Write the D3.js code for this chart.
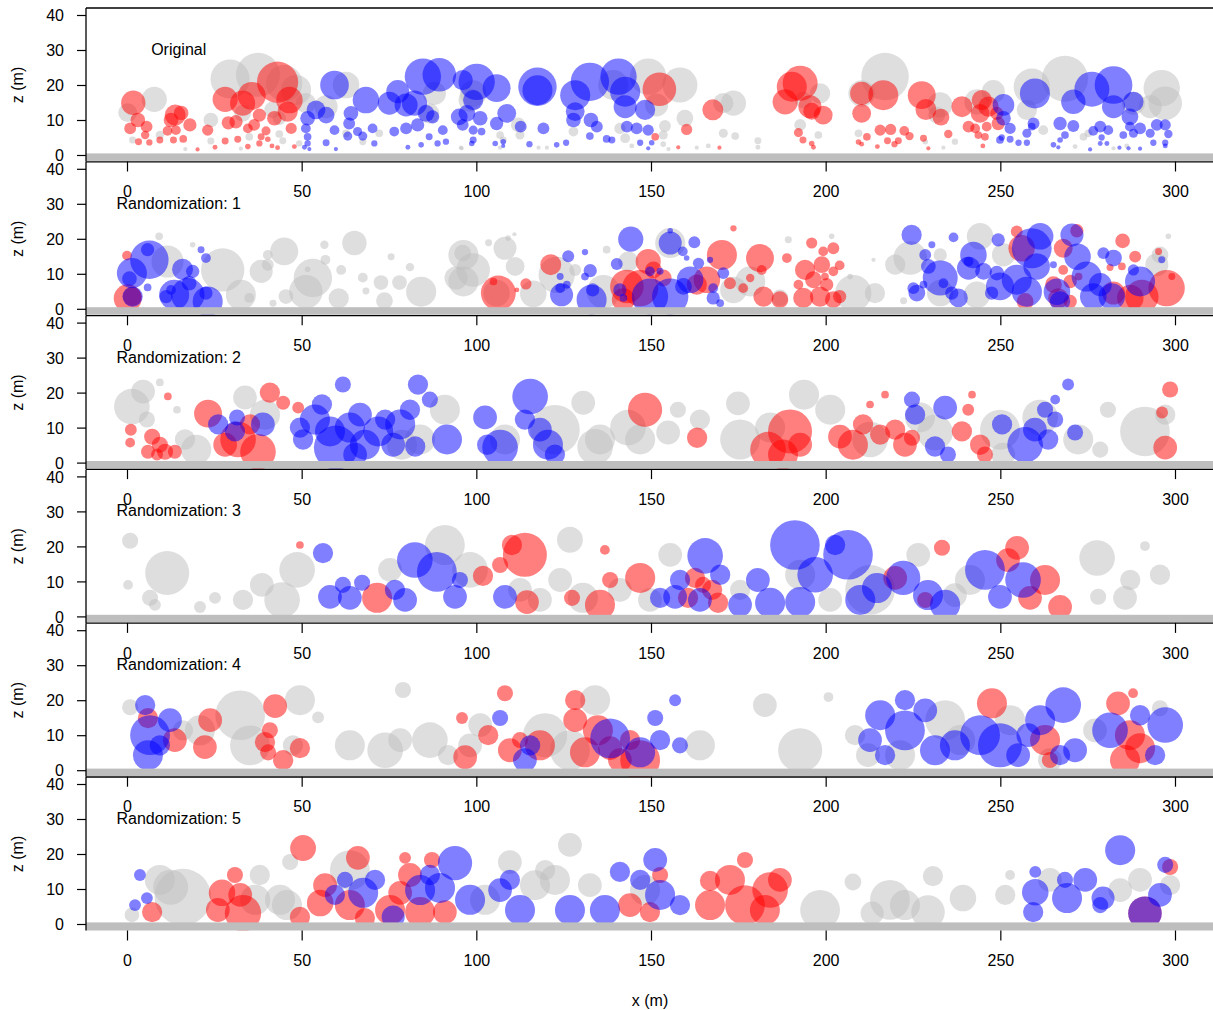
<!DOCTYPE html>
<html><head><meta charset="utf-8">
<script src="https://cdn.jsdelivr.net/npm/d3@7"></script>
<style>
body{margin:0;background:#fff}
svg{display:block}
text{font-family:"Liberation Sans",Arial,Helvetica,sans-serif;fill:#000}
</style>
</head><body>
<script>
// Crown positions of the stand: each entry is [x (m), z (m), crown radius (m)].
const panelTitles = ["Original", "Randomization: 1", "Randomization: 2", "Randomization: 3", "Randomization: 4", "Randomization: 5"];
const xTicks = [0, 50, 100, 150, 200, 250, 300];
const zTicks = [0, 10, 20, 30, 40];

// ---- Original ----
const p0Gray = [[7.8,15.9,3.6],[0.2,12.1,2.7],[29.5,21.7,5.6],[37.5,22.9,6.3],[45,20.5,5.2],[48.4,18.6,4.3],[24,10,2.1],[33.1,11.9,2.4],[41.7,12.9,2.4],[43.6,10.5,1.9],[1.6,4.3,1],[9.4,5.7,1.2],[16.7,1.7,0.6],[24,4,1],[32.6,1.8,0.6],[35,5.2,1.1],[43.6,6,1.1],[44.6,4.1,1],[49.3,3.3,0.9],[51.2,14.8,2.9],[57,13.8,3.3],[62.7,20,3.8],[88,17.6,3.3],[86.5,11.9,2.9],[62.7,6.2,1.1],[67.5,3.8,1],[72.2,6.2,1.1],[95.6,2.1,0.6],
  [149.2,22.4,5.2],[158.3,20,5],[139.2,20,4.3],[151.6,14.3,3.3],[99.1,17.6,3.8],[98.2,15.7,3.3],[112,8.6,2.1],[112.5,5.7,1.3],[106.8,5.7,1.1],[107.7,4.3,1],[127.8,6.7,1.4],[141.1,7.6,1.6],[142.6,4.8,1.4],[154,8.3,1.7],[153.5,5.7,1.3],[159.7,10.5,2.4],[170.7,6.2,1.3],[174.1,5.4,1.1],[170.7,14.8,2.9],[173.6,14.8,3.6],[180.6,4.1,1],[180.6,2.2,0.7],[166.4,2.6,0.7],[163.1,2.1,0.6],[153.5,3.1,0.8],[155,1.7,0.6],[144.5,2.6,0.7],[120.2,2.1,0.6],[117.8,2.1,0.6],[106.8,2.1,0.6],[95.8,1.9,0.6],[192.7,8.6,1.7],[197.9,5.7,1.1],[198.4,17.6,2.9],[193.6,15.7,2.4],
  [217,22.4,6.8],[210.3,17.6,3.8],[232.7,14.3,3.6],[231.8,11.4,2.4],[243.3,15.2,3.6],[248,18.1,3.3],[259,19.5,5.2],[268.5,21.8,6.6],[296.2,19.1,5.2],[297.2,14.8,4.8],[292.9,13.8,3.3],[288.1,14.8,3.3],[257.6,12.9,2.9],[262.3,7.1,1.4],[273.8,5.2,1.1],[275.2,6.2,1.1],[271.4,2.4,0.7],[282.4,1.9,0.6],[286.2,2.6,0.7],[233.7,2.1,0.6],[237,3.8,0.9],[209.4,6.2,1.1],[228.5,3.8,0.8]];
const p0Red = [[1.8,14.9,3.5],[3.1,10,2.1],[0.9,7.6,1.7],[5.6,8.1,1.7],[5.2,5.7,1.2],[3.3,3.8,1],[6.4,3.6,0.9],[13.8,11.4,3],[12.6,10,2.1],[15.5,12,2.1],[18,8.6,1.9],[11.6,6.9,1.4],[14,7.1,1.4],[13.3,4.3,1],[16.1,4.6,1.1],[9.4,4.3,1],[23.1,7.1,1.6],[20.2,1.6,0.6],[25.2,2.2,0.7],
  [28.1,15.9,3.6],[29,9.2,1.9],[31.2,9.5,1.9],[33.1,14.8,3.6],[35.7,16.9,4],[43.1,20.8,5.9],[46.5,15.7,3.8],[46,12.4,2.9],[37.9,11.4,1.9],[36.4,8.6,1.7],[34.6,7.6,1.4],[39.8,6.9,1.3],[42.2,10.5,2.1],[47,7.6,1.6],[28.1,4,1],[31.7,4.5,1],[34.6,2.4,0.8],[38.4,5.2,1],[40.3,4.5,0.8],[41.5,2.6,0.7],[43.1,2.1,0.7],[47.9,2.4,0.7],[37.9,3.3,0.9],
  [152.4,18.8,4.8],[167.7,12.9,3],[160.2,7.3,1.6],[151.2,5.2,1.1],[157.8,2.2,0.6],[169.6,2.1,0.6],[192.7,20.5,5],[190.3,19.5,4.3],[188.4,15.2,3.6],[195.5,13.8,3.3],[199.3,11.4,2.7],[196,12.5,2.4],[192.2,6.4,1.3],[193.5,4.3,1],[196,3.3,0.8],[196.5,2.2,0.7],
  [210.3,17.6,3.3],[216.5,17.1,4.3],[210.3,11.9,2.7],[227.5,17.1,4],[228.7,13,3],[233,10.8,2.4],[239,13.8,3],[244.7,15.7,2.9],[246.6,13.8,2.9],[244.2,11.9,2.7],[240.9,8.1,1.7],[242.8,7.6,1.4],[246.1,8.1,1.4],[249.4,9,1.9],[249,11.9,1.9],[245.6,5.2,1.1],[243.7,5.7,1.1],[215.6,7.1,1.6],[218.6,7.3,1.6],[222.5,6.9,1.4],[224,5.4,1.2],[211.8,5.2,1.1],[217.7,4.1,1],[220.8,4.1,1],[219.7,3.1,0.9],[209.4,3.7,0.8],[210.3,3.1,0.7],[214.8,2.4,0.7],[235.1,6,1.2],[228,4.8,1],[229.4,1.9,0.6],[245,2.6,0.7]];
const p0Blue = [[59.4,20,4.1],[54.1,12.9,2.7],[51.7,10.5,2.1],[57,11.4,2.4],[51.2,7.6,1.4],[51.7,5.2,1.1],[59.4,7.1,1.4],[57,3.5,1],[51.7,3.3,0.9],[50.8,2.2,0.7],[52.2,1.7,0.6],[59.8,1.7,0.6],[68.4,15.7,3.8],[64.1,11.9,2.1],[63.6,9,1.7],[63.2,5.4,1.3],[66,6.7,1.3],[67.5,5.4,1.3],[70.3,7.6,1.4],[70.8,3.3,0.9],[77.5,18.1,3.3],[75.1,14.8,3.3],[79.9,14.3,3.3],[84.7,22.4,5.2],[89.4,22.9,4.8],[82.3,14.8,3.6],[79.9,7.6,1.7],[76.5,6.7,1.4],[83.2,8.6,1.9],[85.6,11.9,2.4],[87.5,10.9,1.9],[90.4,7.1,1.4],[86.5,5.2,1],[84.2,2.9,0.8],[88.9,3.3,0.9],[91.3,3.8,0.9],[80.4,2.2,0.7],[95.1,10.9,2.4],[96.1,8.6,1.7],[96.1,21.4,2.9],
  [100.1,20.9,5.2],[105.8,19.1,4],[99.1,15.7,2.9],[97.3,11.9,2.4],[101.1,10.5,2.1],[105.8,9,1.9],[108.7,11.9,2.7],[99.1,7.1,1.3],[101.5,6.7,1.1],[99.1,4.3,1],[98.7,3.3,0.8],[105.4,3.3,0.8],[107.7,3.8,0.8],[107.7,2.6,0.6],[117.5,19.5,5.5],[117.5,18.5,4.3],[112.7,8.1,1.7],[119.2,7.6,1.7],[115.2,3.1,0.9],[123,2.9,0.8],[125.7,3.5,0.9],[132.5,20.9,5.5],[128.3,17.1,4.3],[128.3,12.4,2.7],[127.8,10,2.1],[132.8,10,2.1],[134.5,8.1,1.7],[132.5,5.4,1.1],[137.3,4.6,1.1],[138.8,4.3,1],[140.7,22.4,5.2],[142.6,18.1,4.3],[142.6,13.8,3.3],[148.3,12.9,2.9],[143.1,8.1,1.7],[145.9,7.6,1.7],[149.2,7.1,1.6],[146.9,3.5,0.9],[149.2,1.9,0.6],[150.2,3.5,0.8],
  [250.9,14.3,3.1],[250.9,10.5,2.1],[252.8,7.6,1.6],[249.9,4.3,1.1],[252.8,4.5,1],[255.2,3.5,0.9],[257.6,3.5,0.9],[250.4,5,0.9],[259.9,17.6,4.3],[259.5,9,1.7],[257.6,6.2,1.3],[259,8.1,1.1],[270.9,15.2,3.5],[276.2,18.8,5],[282.4,20,5.4],[282.4,13.8,3.3],[288.1,15.2,2.9],[287.1,10.9,2.4],[267.1,9,1.9],[270.9,8.3,1.7],[268.5,5.7,1.1],[267.1,4.3,0.8],[265.2,2.9,0.8],[266.6,2.2,0.6],[278.6,8.1,1.7],[280.9,7.1,1.4],[276.6,6.9,1.4],[279,5,0.9],[280.5,3.3,0.7],[278.6,3.3,0.7],[275.7,1.6,0.6],[287.1,8.1,1.4],[290,7.6,1.7],[288.1,6.2,1.3],[285.2,5.7,1.1],[294.8,8.6,1.7],[297.2,8.6,1.6],[292.9,6.2,1.3],[298.1,6,1.2],[293.8,3.5,0.9],[297.2,3.5,0.9],[297.2,2.6,0.7],[286.7,1.9,0.6],[290,1.8,0.6],[284.1,2.1,0.6]];

// ---- Randomization 1 ----
const p1Gray = [[11.6,13.5,4.6],[27.4,11.1,6.2],[32.6,4,4.3],[38.4,10.7,3.3],[45,16.4,4],[53.2,8.8,5.5],[51.2,4.9,4.8],[45.5,3.5,2.1],[40.3,15.4,1.4],[40.3,12.6,1.7],[65.1,18.8,3.5],[60.6,3,2.9],[61.3,11.1,1.4],[56.8,14,1.4],[56.5,18.3,1.2],[51.7,11.3,0.8],[67.5,8.9,1.4],[68.4,5.1,1],[72.7,7.5,2.1],[73.7,2.3,2.4],[78,7.5,2.1],[84.2,4.9,4.3],[81,11.9,1.2],[75.6,14.9,1],[94.2,8.8,3.3],[96.1,15.9,2.4],[9.2,20.7,1.1],[18.8,18.3,0.8],[35,3.1,1.4],[41.8,1.6,1],
  [96.3,15.4,4.3],[99.1,11.1,4.8],[96.3,7.8,4.3],[108.2,17.3,3.3],[111.1,12.1,2.7],[105.8,4.5,3.8],[116.3,4.3,3.8],[123,9.7,5.2],[136.4,4.9,4.8],[155.5,18.8,4.3],[137.3,16.9,1.1],[110.9,21.3,0.6],[143.5,13.5,2.9],[173.6,5.4,3.8],[178.4,7.8,4.3],[189.3,19.7,1],[201.7,20.7,0.8],[128.3,11.1,1.7],[186.9,3.1,2.4],[109.1,20.2,0.8],[103.5,18.9,1],
  [244.2,20.7,3.8],[224.2,14.5,4.8],[219.9,12.6,2.9],[207.9,4.5,5.2],[214.1,4.5,2.9],[232.8,4.5,3.8],[243.3,4,3.8],[250.9,15.4,3.3],[294.8,12.6,3.3],[295.7,15.4,2.4],[213.7,14,0.6],[207,9.2,0.8],[222.3,2.3,1],[298.1,20.7,0.8],[232.8,15.4,1.9]];
const p1Red = [[0.2,3,4],[1.5,3.5,2.7],[0,15.2,1.4],
  [106.3,4.5,5],[104.9,7.8,1.1],[114.2,7.1,1.6],[121.3,12.6,3],[149.2,13.5,3.6],[143.1,6.4,4.8],[146.9,5.9,5.2],[142.1,2.6,3.3],[153.5,8.8,2.4],[150.7,11.1,2.4],[170.3,15.4,4.3],[166,8.3,3.8],[163.1,6.9,2.9],[181.2,14.5,4],[173.6,23,0.9],[182.2,3.5,2.9],[186.9,2.6,2.4],[176.4,5.9,1.4],[178.4,8.8,1.2],[181.7,11.1,1.4],[188.9,14.5,1.4],[194.1,11.1,2.9],[196.5,8.3,2.4],[198.9,12.6,2.4],[199.3,16.4,1.4],[196,18.8,1.6],[202.2,17.3,1.7],[193.6,3.1,2.9],[198.4,3.5,2.9],[202.2,2.6,2.4],[200.3,6.9,1.9],[202.2,10.7,1.4],[199.8,9.2,1.1],[192.2,6.9,1.4],[172.6,7.3,1.7],[111.6,5.4,0.7],
  [254.7,22.1,1.7],[256.1,17.3,3.8],[268,17.3,2.7],[271.9,22.3,1.9],[268,11.1,1.4],[270,7.8,1.9],[265.2,6.9,2.4],[285,19.4,2.1],[288.6,14.9,1.7],[295.3,16.4,1],[297.6,5.9,5.2],[287.2,3.1,3.8],[290.5,3.5,4.8],[282.4,4.5,3.3],[257.1,2.1,2.4],[266.6,3,2.9],[270,2.1,1.9],[272.4,9.2,1.1],[284.8,12.1,1.1],[281.4,11.8,1],[299.1,9.2,1],[204,12.4,1.4],[204,3.5,1.9]];
const p1Blue = [[6.4,14,5.5],[1.4,10.2,4.3],[0.7,8.6,2.1],[5.9,16.9,1.9],[15.9,11.3,3],[18.8,10.7,1.9],[22.6,14.5,1.4],[21.2,16.9,1],[13.5,4,4.3],[17.4,4,4.8],[23.1,2.1,4.3],[11.2,3.5,1.9],[5.9,6.1,1.1],[12.6,5.4,1.4],[17.8,7.3,2.1],[22.6,4.5,1.9],[1.6,3.5,2.9],
  [144.2,19.9,3.6],[155.5,18.8,3.3],[155.5,22.3,0.8],[162.4,19,1.7],[126.3,15,1.7],[131.1,16.2,0.9],[140.2,12.8,1.7],[132.6,10.9,1.9],[131.1,9.2,1.1],[124,9.2,1],[125.9,6.9,1.1],[124.4,4,3.3],[124,5.9,1.4],[133.3,5.4,1.9],[133,2.6,4.3],[141.1,5.4,1.9],[142.1,3.1,1.1],[149.7,10.7,1.4],[152.6,10.7,1],[149.7,3.5,5.2],[155.5,3.5,5.2],[159.3,6.4,2.4],[161.2,8.3,3.8],[163.6,13,1.6],[167.8,5.9,1.4],[170.7,10.2,1.7],[167.8,3.1,1.9],[169.8,1.6,1.1],[159.1,16.4,1.4],[160.2,14.5,0.8],[166.9,14,0.9],
  [224.6,21.1,2.9],[236.6,20.4,1.4],[242.3,15.4,3.8],[240.9,11.6,3.3],[232.8,8.8,5],[229.4,12.1,2.1],[228.5,15.4,1.7],[226.1,4.5,2.4],[238,3.1,2.7],[245.2,10.7,2.4],[249.4,19.7,1.9],[249.9,6.4,4],[254.7,8.3,4.3],[259,17.3,5.7],[261.4,20.7,3.8],[260.4,12.1,3.8],[257.6,4.9,4.3],[266.2,4.9,3.8],[270.5,21.1,3.3],[272.1,14.9,3.8],[274.7,9.2,4.3],[276.6,3.5,3.8],[278.6,6.9,3.3],[282.4,14.5,2.4],[279.5,15.9,1.7],[281.9,3.5,3.8],[290,7.8,4.3],[288.1,11.1,1.6],[296.2,14,1],[265.2,12.6,1],[267.1,2.1,2.9],[249,10.2,2.1],[247.5,4.5,1.9],[240.9,13.5,1.4],[225.1,5.9,1.7],[228,6.9,1.1],[230.4,18.3,1],[236.1,4.5,1.9],[233.7,7.3,1.4]];

// ---- Randomization 2 ----
const p2Gray = [[1.4,16,5.1],[4.6,20.3,3.4],[5.7,12.3,2.3],[9.4,22.9,1.1],[14.3,15.1,1.1],[16.6,6.6,2.9],[19.8,3.7,4.3],[33.8,18.6,3.4],[39.5,13.7,4.3],[78.7,5.1,4.3],[83.9,6.6,4.3],[91,15.1,4.3],[108.2,6.6,4.3],[122.5,9.4,7.1],[130.6,17.1,3.4],[135.4,6.6,4.3],[134,4.5,5.1],[143.4,10,5.1],[146.9,6.6,4.3],[154.9,8.6,3.4],[157.7,15.1,2.3],[164,12.3,2.9],[174.9,16.9,3.4],[175.5,6.6,5.7],[184.1,10,4.3],[193.8,19.4,4.3],[201.3,15.1,4.3],[212.7,6.6,5.1],[227,12.9,4.3],[231.3,8.6,5.1],[249.9,9.4,5.7],[250.8,2.3,3.4],[261.4,12.9,5.1],[272.3,6.6,4.3],[278.6,3.7,2.3],[280.8,15.1,2.3],[291.4,8.9,7.1],[297.2,13.7,2.9]];
const p2Red = [[11.7,18.9,1.1],[1.1,9.4,1.7],[0.9,5.7,1.4],[7.2,7.4,2.3],[9.4,5.1,2.3],[6,3.1,2],[10.9,3.1,2.3],[13.7,3.1,2],[8.6,2.3,1.7],[23.2,14,4],[31.8,6.6,5.1],[37.5,3.1,5.1],[28.1,5.1,3.4],[35.2,10.9,2.9],[40.9,20,2.9],[44.7,17.1,2],[49,15.7,1.7],[148.3,15.1,4.9],[163.2,7.1,2.9],[189.8,8.9,6.3],[183.5,3.7,5.1],[187.8,2.3,4.3],[192.7,5.1,3.4],[207.8,5.1,4.3],[204.1,7.4,3.4],[210.7,10.9,2.9],[215.6,8,2.9],[219.9,9.4,2.9],[212.7,16.6,1.1],[217,19.4,1.1],[222.7,5.1,3.4],[224.7,7.1,2.3],[239,8.9,2.9],[240.8,15.1,1.7],[244.2,5.1,2.9],[245.6,2.3,2.3],[241.9,19.4,1.1],[298.6,20.9,2.3],[296.3,14.3,1.7],[297.2,4.3,3.4]];
const p2Blue = [[26.1,10.9,2.9],[31.5,12.9,2.3],[30.9,8.9,2.9],[38.9,10.9,3.4],[49.5,10,2.9],[50.4,6.6,2.9],[53.8,12.3,4.3],[55.8,16.6,2.9],[61.8,22.3,2.3],[58.1,8.9,4.3],[59.8,4.3,6.3],[63.8,10,4.3],[66.7,13.7,3.4],[68.1,5.1,4.3],[71.9,8.9,4.3],[73.9,12.3,2.9],[76.2,5.1,3.4],[78.2,10.9,4.3],[81,15.1,2.9],[83.3,22.3,2.9],[82.5,4.6,2.9],[86.7,18,2.3],[65.3,2.3,3.4],[91.6,6.6,4.3],[102.5,12.9,3.4],[103.1,5.1,2.9],[106.8,4.3,5.1],[115.4,18.9,5.1],[118.2,9.4,3.4],[120.5,5.1,4.3],[113.9,12.3,2.9],[122.5,2.3,2.9],[224.7,18,2.3],[225.6,13.7,2.9],[234.2,15.7,3.4],[231.3,4.6,2.9],[235,2.3,2.3],[250.5,10.9,2.9],[257.1,5.1,5.1],[259.9,9.4,3.4],[262.8,15.1,2.3],[265.7,18,1.4],[269.4,22.3,1.7],[265.7,12.3,2.3],[271.4,8.6,2.3],[263.7,6.6,2.9]];

// ---- Randomization 3 ----
const p3Gray = [[0.9,21.6,2.3],[11.5,12.4,6.3],[0.3,9,1.4],[6.6,5.3,2.3],[8,3.3,1.7],[20.9,2.7,1.7],[25.2,5.3,1.7],[33.2,4.7,2.9],[38.6,9,3.4],[44.4,4.7,5.1],[48.7,13.3,5.1],[75.3,13.3,3.4],[91,20.4,5.7],[98.2,13.3,5.1],[112.5,7.6,3.4],[118.2,4.7,3.4],[124,10.4,3.4],[126.8,21.9,3.7],[130.5,5.3,4.3],[141.1,7.6,3.4],[149.7,4.7,3.4],[155.5,17.6,3.4],[175.5,7.6,2.9],[192.7,11.9,4.3],[201.3,4.7,3.4],[212.7,7.6,7.1],[226.5,17.6,3.4],[237,6.1,3.4],[241.3,10.4,4.3],[277.7,16.7,5.1],[287.2,10.4,2.9],[285.7,5.3,3.4],[295.7,11.9,2.9],[278,5.6,2.3],[291.4,20.1,1.4]];
const p3Red = [[49.5,20.4,1.1],[71.6,5.3,4.3],[101.9,11.6,2.9],[106.8,14.7,2.3],[110.2,20.4,2.9],[113.9,17.6,6.3],[114.5,4.1,3.4],[135.4,3.3,4.3],[127.4,5.3,2.3],[138.3,10.4,2.3],[136.8,19,1.4],[146.9,11,4.3],[162.6,11,2.9],[160.6,5.3,2.9],[167.5,7.6,2.9],[169.2,3.9,2.9],[164.9,9,2.3],[219.9,11,3.4],[233.3,19.6,2.3],[228.5,4.7,2.3],[254.8,19.6,3.4],[252.2,16.1,3.4],[262.8,10.4,4.3],[267.1,2.7,3.4],[258.5,5.3,3.4]];
const p3Blue = [[56.1,18.1,2.9],[58.1,5.6,3.4],[63.8,5.3,3.4],[67.3,9.6,2.3],[61.8,9,2.3],[76.7,7.6,2.9],[79.6,4.7,3.4],[82.4,16.1,5.1],[88.7,12.7,5.7],[93.9,5.6,3.4],[95.3,10.4,2.3],[108.2,5.6,3.4],[152.6,5.3,2.9],[156.9,5.6,3.4],[158.3,10.4,2.9],[165.5,17.3,5.1],[164,4.7,3.4],[169.8,11.9,2.9],[175.5,3.3,3.4],[180.6,10.4,3.4],[184.1,3.9,4.3],[191.2,20.4,7.1],[192.7,4.1,4.3],[197,11.9,5.1],[202.7,20.4,2.9],[206.4,17.6,7.1],[209.9,4.7,4.3],[214.7,8.1,4.3],[222.2,11,4.9],[229.3,6.1,4.3],[234.2,3.3,4.3],[245.6,13.3,5.7],[249.9,5.6,3.4],[256.5,10.4,5.1]];

// ---- Randomization 4 ----
const p4Gray = [[0.9,18,2.3],[16,11.4,2.9],[20.9,11.4,4.3],[32.4,15.7,7.1],[35.2,7.1,5.7],[49.5,20,4.3],[54.7,15.1,1.7],[47.5,7.1,2.9],[63.8,7.1,4.3],[73.9,5.7,5.1],[79,22.9,2.3],[78.2,8.6,3.4],[86.7,8.6,5.1],[91.9,4.3,2.9],[101.1,12.9,3.4],[98.2,7.1,3.4],[119.7,10,6.3],[134,20,4.3],[126.8,5.7,5.7],[164,7.1,4.3],[182.6,18.6,3.4],[192.7,5.7,6.3],[200.8,20.9,1.4],[208.4,10,2.9],[212.1,4.3,3.4],[221.3,4.3,4.3],[234.2,14.3,5.7],[238.5,8.6,4.3],[252.8,14.3,4.3],[264.2,2.9,3.4],[277.1,11.4,3.4],[295.7,17.7,2.3]];
const p4Red = [[6,14.9,2.9],[13.7,8.6,3.4],[23.8,14.3,3.4],[22.3,6.6,3.4],[42.4,18.3,3.4],[40.9,11.4,2.3],[39.5,8,2.9],[44.7,2.9,2.9],[40.4,5.1,2.3],[49.5,6.3,2.9],[96.8,3.7,3.4],[95.9,14.9,1.7],[108.2,22,2.3],[103.4,10,2.9],[109.6,5.7,3.4],[112.5,8.6,2.3],[118.2,7.1,4.3],[128.3,20,2.9],[128.3,14.3,3.4],[131.1,5.1,4.3],[134.8,11.4,4.3],[138.3,6.3,3.4],[146.9,2.9,5.7],[141.1,2.9,3.4],[144,8.6,2.9],[247.6,19.1,4.3],[262.8,8.6,4.3],[264.2,2.9,2.3],[283.7,19.1,3.4],[287.1,10,4.3],[290,6.3,4.3],[285.7,2.9,4.3],[288,22,1.4]];
const p4Blue = [[5.2,18.6,2.9],[6.6,10,5.7],[6,4.3,4.3],[12.3,14.3,3.4],[9.4,7.1,2.9],[106.8,14.9,2.3],[113.9,2.9,3.4],[115.4,7.1,2.9],[138.3,9.1,5.7],[146.9,5.1,4.3],[151.2,14.9,2.3],[156.9,20,1.7],[152.6,8.6,2.9],[158.3,7.1,2.3],[215.6,15.7,4.3],[222.7,11.4,5.7],[212.7,8.6,3.4],[222.7,20,2.9],[217,4.3,2.9],[231.3,5.7,4.3],[228.5,17.1,3.4],[237,7.1,4.3],[244.2,10,5.7],[249.9,7.1,6.3],[255.1,4.3,3.4],[261.4,14.3,4.3],[268,18.6,5.1],[258,10,3.4],[271.4,5.7,3.4],[267.1,4.3,2.9],[281.4,11.4,5.1],[297.2,12.9,5.1],[294.3,4.3,2.9],[290,15.7,2.9]];

// ---- Randomization 5 ----
const p5Gray = [[1.4,2.6,2.1],[9.4,12.6,4.3],[12.5,10.5,5],[16,7.7,8.1],[38,14,2.9],[43.8,6.9,4.3],[36.7,6.9,4.3],[46.7,17.7,2.3],[45.8,5.4,4.3],[63.8,15.4,5.7],[102.5,6.9,4.3],[109.6,17.7,3.4],[116.8,11.1,4.3],[119.7,15.4,2.9],[126.8,22.6,3.4],[122.5,12.6,4.3],[132.5,11.1,3.4],[148.3,9.7,4.3],[198.4,4,5.7],[207.8,12,2.4],[213.3,3.1,3.3],[218.4,6.9,5.7],[222.7,5.4,4.3],[229.3,3.4,4.8],[230.7,13.7,2.9],[239.3,7.4,3.8],[251.4,8.3,2.9],[252.8,14,1.4],[264.2,12.6,3.4],[284.3,9.7,3.4],[290,12.6,3.4],[298.6,11.1,2.9]];
const p5Red = [[7.2,3.4,2.9],[27.2,8.9,3.8],[26,4,3.4],[33.2,3.1,5.2],[32.4,8.3,3.4],[30.9,14,2.3],[50.4,21.7,3.7],[49.5,2,2.9],[55.3,6,3.8],[56.7,11.1,3.4],[66.1,18.9,3.4],[63.8,5.4,4.3],[68.1,1.7,2.9],[78.2,8.9,3.4],[75.3,4,4.3],[83.9,3.4,4.3],[81,14,3.4],[79.6,18.9,1.7],[91,3.4,3.4],[87.3,18.3,2.3],[144,5.4,3.4],[149.7,3.4,2.9],[152.6,14,2.3],[166.9,5.4,4.3],[166.9,12.3,2.9],[172.6,12.6,4.3],[176.9,18.3,2.3],[176.9,5.4,5.7],[184.1,9.7,5.1],[186.9,12.6,3.4],[182.6,4,4.3],[291.4,3.1,4.8],[298.6,16.3,2.3]];
const p5Blue = [[3.7,14,1.7],[5.7,7.4,1.7],[2.3,5.4,1.7],[59.5,8.3,2.9],[62.4,12.6,2.3],[67.6,8.9,4.3],[71,12.6,2.9],[76.2,2,3.3],[83.9,9.7,4.3],[86.7,14,2.9],[93.9,17.4,4.9],[89.6,10.3,4.3],[98.2,6.9,4.3],[106.8,9.7,3.4],[109.6,12.6,2.9],[112.5,4,4.3],[126.8,4,4.3],[136.8,4,4.3],[141.1,14.9,2.9],[146.9,12.6,2.9],[151.2,18.3,3.4],[152.6,8.3,4.3],[158.3,5.4,2.9],[259.4,3.4,2.9],[260,9.1,3.8],[269.1,7.4,4.3],[268.5,12.6,2.3],[260,14.9,1.7],[274.3,12.6,3.4],[279.4,7.4,3.3],[278.6,5.4,2.3],[284.3,21.1,4.3],[291.4,3.1,4.8],[295.7,8.3,3.4],[297.2,16.9,2.3]];

const crownGroups = [
  [p0Gray, p0Red, p0Blue], [p1Gray, p1Red, p1Blue], [p2Gray, p2Red, p2Blue],
  [p3Gray, p3Red, p3Blue], [p4Gray, p4Red, p4Blue], [p5Gray, p5Red, p5Blue]
];
const crownColors = ["rgba(190,190,190,0.5)", "rgba(255,0,0,0.5)", "rgba(0,0,255,0.5)"];

const W = 1213, H = 1010;
const axisX = 86, firstGround = 155, panelStep = 153.8;
const svg = d3.select("body").append("svg").attr("width", W).attr("height", H);

const x = d3.scaleLinear().domain([0, 300]).range([127, 1175]);
const rScale = d => x(d) - x(0);

panelTitles.forEach((title, i) => {
  const ground = firstGround + i * panelStep;
  const top = ground - 147, bottom = ground + 6.5;
  const y = d3.scaleLinear().domain([0, 40]).range([ground, ground - 140]);
  const g = svg.append("g");

  const clipId = "clip" + i;
  svg.append("clipPath").attr("id", clipId).append("rect")
    .attr("x", axisX).attr("y", top).attr("width", W - axisX).attr("height", bottom - top);

  const plot = g.append("g").attr("clip-path", `url(#${clipId})`);
  crownGroups[i].forEach((arr, k) => {
    plot.selectAll(null).data(arr).enter().append("circle")
      .attr("cx", d => x(d[0])).attr("cy", d => y(d[1])).attr("r", d => rScale(d[2]))
      .attr("fill", crownColors[k]);
  });

  // ground band
  g.append("rect").attr("x", axisX).attr("y", ground - 1.6)
    .attr("width", W - axisX).attr("height", bottom - ground + 1.6 - (i < 5 ? 0.6 : 0))
    .attr("fill", "#bebebe");

  // frame: top and left edges
  g.append("line").attr("x1", axisX).attr("x2", W).attr("y1", top).attr("y2", top)
    .attr("stroke", "#000").attr("stroke-width", 1.3);
  g.append("line").attr("x1", axisX).attr("x2", axisX).attr("y1", top).attr("y2", bottom)
    .attr("stroke", "#000").attr("stroke-width", 1.3);

  // z axis
  const ya = g.append("g").attr("transform", `translate(${axisX},0)`)
    .call(d3.axisLeft(y).tickValues(zTicks).tickSize(9).tickPadding(13));
  ya.select(".domain").remove();
  ya.selectAll("line").attr("stroke", "#000").attr("stroke-width", 1.2);
  ya.selectAll("text").attr("font-size", 16).attr("font-family", null).attr("dy", "0.36em");

  // x axis below each panel
  const xa = g.append("g").attr("transform", `translate(0,${bottom})`)
    .call(d3.axisBottom(x).tickValues(xTicks).tickSize(10));
  xa.select(".domain").remove();
  xa.selectAll("line").attr("stroke", "#000").attr("stroke-width", 1.2);
  xa.selectAll("text").attr("font-size", 16).attr("font-family", null).attr("y", 35.8).attr("dy", null);

  g.append("text").attr("transform", `translate(23,${y(20)}) rotate(-90)`)
    .attr("text-anchor", "middle").attr("font-size", 16).text("z (m)");

  g.append("text").attr("x", x(14.8)).attr("y", y(30.2)).attr("dy", "0.36em")
    .attr("text-anchor", "middle").attr("font-size", 16).text(title);
});

svg.append("text").attr("x", 650).attr("y", 1005.5).attr("text-anchor", "middle")
  .attr("font-size", 16).text("x (m)");
</script>
</body></html>
